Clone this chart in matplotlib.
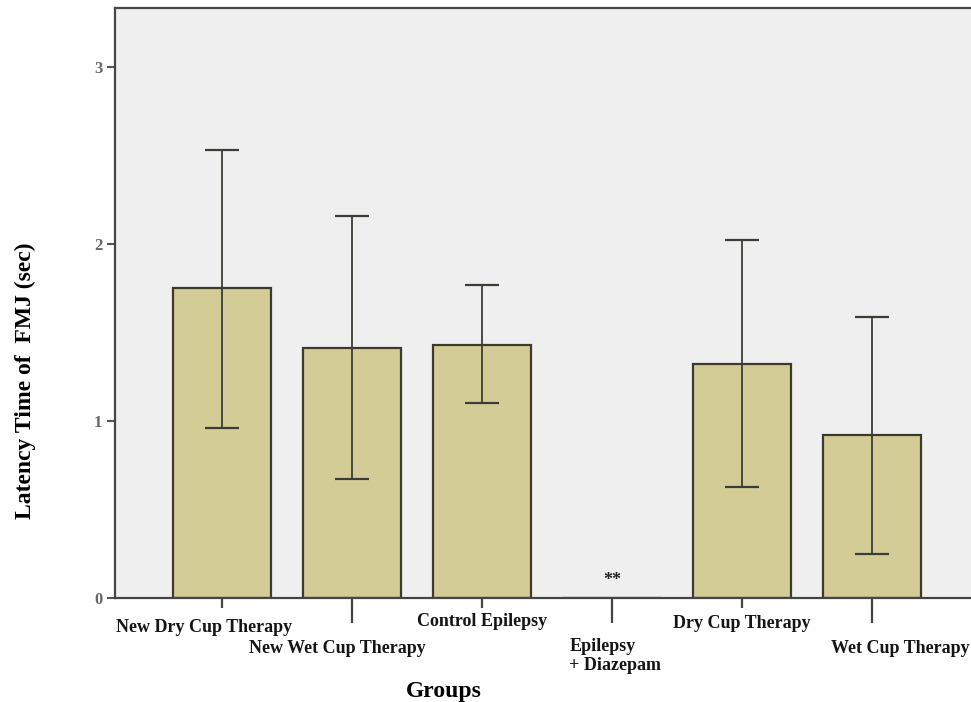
import numpy as np
import matplotlib
matplotlib.use('Agg')
import matplotlib.pyplot as plt

groups = ['New Dry Cup Therapy', 'New Wet Cup Therapy', 'Control Epilepsy',
          'Epilepsy\n+ Diazepam', 'Dry Cup Therapy', 'Wet Cup Therapy']
means = [1.75, 1.41, 1.43, 0.0, 1.32, 0.92]
upper = [2.53, 2.16, 1.77, 0.0, 2.02, 1.59]
lower = [0.96, 0.67, 1.10, 0.0, 0.63, 0.25]
y_ticks = [0, 1, 2, 3]

plt.rcParams['font.family'] = ['Liberation Serif', 'DejaVu Serif']

fig = plt.figure(figsize=(9.71, 7.02), dpi=100, facecolor='w')
ax = fig.add_axes([0.1184, 0.1481, 0.8816, 0.8405])
ax.set_facecolor('#efeff0')

x = np.arange(len(groups))
means = np.array(means)
err = [means - np.array(lower), np.array(upper) - means]
has = means > 0

ax.bar(x, means, width=0.75, color='#d4cc96', edgecolor='#3b3a2c', linewidth=1.6, zorder=2)
ax.errorbar(x[has], means[has], yerr=[err[0][has], err[1][has]],
            fmt='none', ecolor='#3d3d38', elinewidth=1.3, capsize=12, capthick=1.6, zorder=3)

ax.text(3, 0.05, '**', ha='center', va='bottom', fontsize=13, fontweight='bold', color='#222222')

ax.set_xlim(-0.823, 5.76)
ax.set_ylim(0, 3.333)

# odd groups get long ticks, even groups short ones
ax.set_xticks(x[1::2])
ax.set_xticks(x[0::2], minor=True)
ax.tick_params(axis='x', which='major', length=18, width=1.6, color='#444444', labelbottom=False)
ax.tick_params(axis='x', which='minor', length=7.5, width=1.6, color='#444444', labelbottom=False)

# staggered group labels (offset in data units from tick, offset in points below axis, align)
lab_dx = [-0.14, -0.11, 0.0, -0.33, 0.0, -0.32]
lab_dy = [-21, -36, -17, -29, -18, -36]
lab_ha = ['center', 'center', 'center', 'left', 'center', 'left']
lab_va = ['center', 'center', 'center', 'top', 'center', 'center']
for i, g in enumerate(groups):
    ax.annotate(g, xy=(x[i] + lab_dx[i], 0), xycoords=('data', 'axes fraction'),
                xytext=(0, lab_dy[i]), textcoords='offset points',
                ha=lab_ha[i], va=lab_va[i], fontsize=13, fontweight='bold',
                color='#151515', linespacing=1.1, annotation_clip=False)

ax.set_yticks(y_ticks)
ax.tick_params(axis='y', length=6, width=1.5, color='#555555', labelsize=12, labelcolor='#666666', pad=3)
for lab in ax.get_yticklabels():
    lab.set_fontweight('bold')

for side in ['left', 'top', 'bottom']:
    ax.spines[side].set_color('#454545')
    ax.spines[side].set_linewidth(1.6)
ax.spines['right'].set_visible(False)

ax.set_ylabel('Latency Time of  FMJ (sec)', fontsize=17, fontweight='bold')
ax.yaxis.set_label_coords(-0.092, 0.368)
ax.set_xlabel('Groups', fontsize=17, fontweight='bold')
ax.xaxis.set_label_coords(0.384, -0.141)

fig.savefig('out.png', dpi=100)
